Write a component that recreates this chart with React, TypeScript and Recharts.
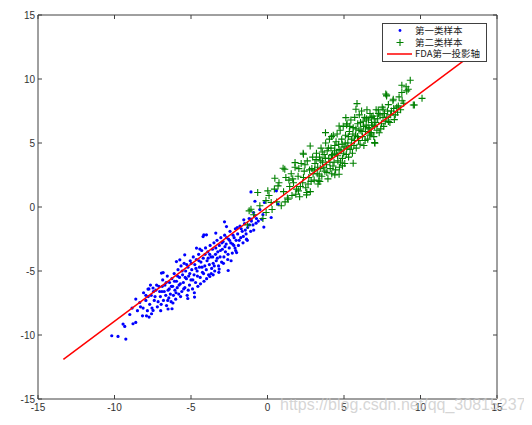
import {
  ScatterChart,
  Scatter,
  XAxis,
  YAxis,
  Legend,
} from 'recharts';

// class 1 samples (blue dots)
const class1: [number, number][] = [
  [-10.18, -10.06], [-9.77, -10.11], [-9.26, -10.32], [-9.44, -9.15], [-9.33, -9.33],
  [-8.79, -9.12], [-8.61, -9.02], [-8.61, -7.19], [-8.35, -7.46], [-8.13, -7.9],
  [-8.17, -8.5], [-7.91, -8.5], [-7.74, -8.6], [-7.58, -8.34], [-7.48, -8.08],
  [-6.5, -7.97], [-6.24, -7.95], [-5.21, -7.15], [-4.77, -7.04], [-3.77, -5.43],
  [-3.55, -5.3], [-3.16, -4.85], [-2.57, -4.96], [-2.02, -3.56], [-2.12, -3.21],
  [-1.37, -2.51], [-0.24, -1.57], [-2.81, -1.16], [-2.68, -1.53], [-4.21, -2.31],
  [-4.16, -2.17], [-6.93, -5.16], [-6.82, -5.12], [-7.81, -6.41], [-7.48, -6.33],
  [-5.95, -4.26], [-5.73, -4.13], [-5.41, -3.74], [-4.64, -3.21], [-4.42, -3.29],
  [-3.99, -2.17], [-3.38, -2.04],
  [-1.08, 1.18], [-0.82, 0.45], [-0.2, 0.35], [0.58, 1.26], [0.69, 0.22],
  [0.24, -0.82], [-0.38, -0.95], [-0.75, -1.26], [-1.08, -0.95], [-0.91, -0.43],
  [-9.0, -8.4], [-8.85, -7.9], [-8.5, -8.1],
  [-8.3, -7.8], [-8.1, -6.7], [-7.95, -7.3], [-7.85, -8.1], [-7.75, -6.4], [-7.7, -7.6], [-7.65, -6.1],
  [-7.6, -6.9], [-7.4, -7.3], [-7.3, -6.5], [-7.2, -7.8], [-7.1, -6.2], [-7.0, -7.0],
  [-6.95, -7.6], [-6.9, -6.6], [-6.85, -5.7], [-6.8, -7.3], [-6.7, -6.1], [-6.65, -6.9],
  [-6.6, -7.7], [-6.55, -5.4], [-6.5, -6.5], [-6.45, -7.1], [-6.4, -5.9], [-6.35, -6.8],
  [-6.3, -7.4], [-6.25, -5.6],
  [-6.2, -6.2], [-6.15, -6.9], [-6.1, -5.2], [-6.05, -6.5], [-6.0, -7.2], [-5.95, -5.8],
  [-5.9, -6.3], [-5.85, -4.9], [-5.8, -6.8], [-5.75, -5.5], [-5.7, -6.0], [-5.65, -4.6],
  [-5.6, -6.6], [-5.55, -5.3], [-5.5, -5.9], [-5.45, -4.4], [-5.4, -6.3], [-5.35, -5.0],
  [-5.3, -5.6], [-5.25, -6.9], [-5.2, -4.7], [-5.15, -5.4], [-5.1, -6.1], [-5.05, -4.2],
  [-5.0, -5.7],
  [-4.95, -4.9], [-4.9, -6.4], [-4.85, -3.9], [-4.8, -5.3], [-4.75, -4.5], [-4.7, -5.9],
  [-4.65, -4.1], [-4.6, -5.0], [-4.55, -6.2], [-4.5, -3.7], [-4.45, -4.7], [-4.4, -5.5],
  [-4.35, -4.3], [-4.3, -3.4], [-4.25, -5.1], [-4.2, -4.0], [-4.15, -5.8], [-4.1, -4.6],
  [-4.05, -3.2], [-4.0, -4.9],
  [-3.95, -4.2], [-3.9, -3.5], [-3.85, -5.3], [-3.8, -4.5], [-3.75, -3.0], [-3.7, -3.9],
  [-3.65, -4.8], [-3.6, -3.3], [-3.55, -4.4], [-3.5, -2.8], [-3.45, -5.0], [-3.4, -3.7],
  [-3.35, -4.2], [-3.3, -2.6], [-3.25, -3.5], [-3.2, -4.6], [-3.15, -3.0], [-3.1, -3.9],
  [-3.05, -2.4], [-3.0, -4.3],
  [-2.95, -3.3], [-2.9, -2.7], [-2.85, -3.9], [-2.8, -2.2], [-2.75, -3.5], [-2.7, -2.9],
  [-2.6, -4.1], [-2.55, -2.5], [-2.5, -3.2], [-2.45, -1.9], [-2.4, -2.8], [-2.3, -3.6],
  [-2.25, -2.2], [-2.2, -3.0], [-2.1, -1.7], [-2.05, -2.6],
  [-1.95, -2.1], [-1.9, -3.0], [-1.8, -1.5], [-1.75, -2.4], [-1.65, -1.9], [-1.6, -2.8],
  [-1.5, -1.3], [-1.4, -2.1], [-1.3, -1.6], [-1.2, -0.9], [-1.1, -1.9], [-0.95, -1.4],
  [-0.85, -0.7], [-0.6, -1.1], [-0.5, -0.2],
  [-7.95, -6.9], [-7.8, -7.0], [-7.55, -7.9], [-7.45, -6.6], [-7.35, -7.0], [-7.25, -6.1],
  [-7.15, -7.4], [-7.05, -6.6], [-6.98, -8.1], [-6.88, -6.2], [-6.75, -6.6], [-6.62, -5.9],
  [-6.52, -7.3], [-6.42, -6.4], [-6.28, -6.2], [-6.18, -7.5], [-6.08, -5.8],
  [-5.98, -6.7], [-5.88, -5.4], [-5.78, -6.1], [-5.68, -7.0], [-5.58, -5.0], [-5.48, -6.4],
  [-5.38, -5.5], [-5.28, -4.5], [-5.18, -6.5], [-5.08, -5.2], [-4.98, -4.4], [-4.88, -5.7],
  [-4.78, -6.7], [-4.68, -4.8], [-4.58, -5.4], [-4.48, -4.2], [-4.38, -6.0], [-4.28, -4.7],
  [-4.18, -5.2], [-4.08, -3.7],
  [-3.98, -5.6], [-3.88, -4.0], [-3.78, -3.7], [-3.68, -5.2], [-3.58, -3.9], [-3.48, -4.6],
  [-3.38, -3.2], [-3.28, -4.0], [-3.18, -5.1], [-3.08, -3.4], [-2.98, -2.8], [-2.88, -4.4],
  [-2.78, -3.1], [-2.68, -2.4], [-2.58, -3.7], [-2.48, -2.6], [-2.38, -4.2], [-2.28, -2.9],
  [-2.18, -2.4], [-2.08, -3.4],
  [-1.98, -1.6], [-1.85, -2.6], [-1.72, -1.7], [-1.58, -2.3], [-1.45, -1.8], [-1.32, -2.6],
  [-1.18, -1.4], [-1.05, -1.1], [-0.9, -1.8], [-0.72, -0.9], [-0.3, -0.6], [-1.55, -1.0],
];

// class 2 samples (green plus signs)
const class2: [number, number][] = [
  [10.1, 8.49], [9.6, 7.97], [9.33, 9.9], [8.78, 9.51], [7.73, 8.83], [8.29, 6.83],
  [7.0, 5.03], [5.85, 8.08], [9.06, 9.4], [9.1, 9.07], [7.78, 8.68], [8.22, 8.42],
  [8.55, 7.9], [8.78, 8.94], [7.56, 7.64], [6.78, 5.81], [4.9, 3.21], [4.68, 2.56],
  [3.35, 2.04], [2.57, 1.13], [2.02, 1.26], [1.35, 0.61], [0.24, 0.35], [-0.09, -0.43],
  [-0.64, 1.13], [-1.08, -0.17], [0.02, 1.26], [0.69, 1.65], [1.13, 2.95], [1.8, 3.47],
  [2.35, 4.12], [2.79, 4.77], [3.79, 5.81], [4.68, 6.33], [5.12, 6.98], [5.78, 7.64],
  [0.48, 2.25], [1.02, 3.03], [2.33, 4.2], [4.19, 5.5], [5.17, 6.41], [7.24, 7.58],
  [7.79, 8.75], [2.55, 0.95], [3.42, 1.99], [4.4, 2.51], [5.6, 3.42], [7.02, 4.98],
  [7.9, 6.67], [9.53, 7.97],
  [-1.3, -1.4], [-0.9, -0.6], [-0.5, 0.1], [-0.3, -0.9], [-0.1, 0.5], [-1.2, -0.3],
  [0.1, 0.9], [0.3, -0.2], [0.45, 1.4], [0.6, 0.4], [0.75, 1.9], [0.9, 0.1],
  [1.05, 1.2], [1.2, 2.3], [1.3, 0.7], [1.45, 1.6],
  [1.55, 2.6], [1.6, 0.9], [1.7, 1.9], [1.8, 3.1], [1.9, 1.4], [2.0, 2.4], [2.1, 0.8],
  [2.2, 3.4], [2.3, 1.9], [2.4, 2.8], [2.5, 1.5], [2.6, 3.6], [2.7, 2.3], [2.8, 1.2],
  [2.9, 3.0], [2.95, 3.9],
  [3.05, 2.1], [3.1, 3.4], [3.2, 4.2], [3.25, 2.6], [3.3, 1.8], [3.4, 3.9], [3.45, 3.0],
  [3.5, 4.6], [3.55, 2.4], [3.6, 3.5], [3.7, 4.1], [3.75, 2.8], [3.8, 5.0], [3.85, 3.3],
  [3.9, 4.4], [3.95, 2.2], [4.0, 3.8], [4.05, 5.3], [4.1, 3.0], [4.15, 4.6], [4.2, 2.6],
  [4.25, 4.1], [4.3, 5.6], [4.35, 3.5], [4.4, 4.8], [4.45, 2.9],
  [4.5, 4.2], [4.55, 5.7], [4.6, 3.6], [4.65, 4.9], [4.7, 3.1], [4.75, 6.0], [4.8, 4.4],
  [4.85, 5.3], [4.9, 3.8], [4.95, 6.3], [5.0, 4.7], [5.05, 3.4], [5.1, 5.6], [5.15, 4.1],
  [5.2, 6.5], [5.25, 5.0], [5.3, 3.9], [5.35, 5.9], [5.4, 4.5], [5.45, 6.8], [5.5, 5.3],
  [5.55, 4.2], [5.6, 6.2], [5.65, 4.8], [5.7, 7.0], [5.75, 5.6], [5.8, 4.6], [5.9, 6.5],
  [5.95, 5.2],
  [6.0, 7.2], [6.05, 4.9], [6.1, 6.0], [6.15, 7.5], [6.2, 5.5], [6.25, 6.7], [6.3, 4.8],
  [6.35, 7.0], [6.4, 5.9], [6.45, 6.4], [6.5, 7.6], [6.55, 5.3], [6.6, 6.8], [6.65, 6.1],
  [6.7, 7.3], [6.75, 5.7], [6.8, 6.6], [6.9, 7.1], [6.95, 5.5], [7.0, 6.3], [7.1, 7.6],
  [7.15, 6.0], [7.2, 6.9], [7.3, 5.8], [7.35, 7.2], [7.45, 6.5],
  [7.5, 7.8], [7.6, 6.3], [7.65, 7.3], [7.8, 7.0], [7.9, 8.0], [8.0, 6.6], [8.1, 7.5],
  [8.2, 8.3], [8.35, 7.2], [8.45, 7.8], [8.6, 8.6], [8.7, 7.6], [8.9, 8.1], [9.2, 9.2],
  [1.15, 0.4], [1.4, 2.1], [1.65, 2.2], [1.85, 1.0], [2.05, 3.0], [2.15, 1.6], [2.35, 2.3],
  [2.45, 3.3], [2.65, 1.8], [2.75, 2.9], [2.85, 2.0], [2.98, 2.6],
  [3.08, 2.9], [3.18, 3.7], [3.28, 3.1], [3.38, 2.5], [3.48, 3.6], [3.58, 4.3], [3.68, 3.1],
  [3.78, 3.8], [3.88, 2.7], [3.98, 4.6], [4.08, 3.5], [4.18, 4.0], [4.28, 3.2], [4.38, 4.4],
  [4.48, 5.1], [4.58, 4.0], [4.68, 4.5], [4.78, 3.5], [4.88, 4.9], [4.98, 4.2],
  [5.08, 5.0], [5.18, 4.6], [5.28, 5.5], [5.38, 6.3], [5.48, 4.8], [5.58, 5.7], [5.68, 5.2],
  [5.78, 6.1], [5.88, 5.5], [5.98, 6.0], [6.08, 6.6], [6.18, 5.9], [6.28, 6.3], [6.38, 5.2],
  [6.48, 6.9], [6.58, 6.2], [6.68, 5.6], [6.78, 7.0], [6.88, 6.4], [6.98, 6.9],
  [7.08, 6.6], [7.25, 7.3], [7.4, 6.1], [7.55, 7.0], [7.7, 6.7], [7.85, 7.5], [8.05, 7.2],
  [8.25, 7.7], [8.5, 7.4], [8.8, 8.3],
];

// FDA first projection axis
const fdaAxis: [number, number][] = [
  [-13.34, -11.9],
  [13.6, 12.12],
];

const ticks = [-15, -10, -5, 0, 5, 10, 15];
const legendLabels = ['第一类样本', '第二类样本', 'FDA第一投影轴'];

const toPoints = (arr: [number, number][]) => arr.map(([x, y]) => ({ x, y }));

const AXIS_COLOR = '#404040';
const tickFont = { fontSize: 10, fill: '#333', fontFamily: 'Liberation Sans, Arial, sans-serif' };

function BlueDot(props: any) {
  const { cx, cy } = props;
  return <circle cx={cx} cy={cy} r={1.6} fill="#0000ff" />;
}

function GreenPlus(props: any) {
  const { cx, cy } = props;
  return (
    <path
      d={`M${cx - 3.5},${cy}h7M${cx},${cy - 3.5}v7`}
      stroke="#008000"
      strokeWidth={1.1}
      fill="none"
    />
  );
}

function NoShape() {
  return <g />;
}

function LegendBox() {
  return (
    <div
      style={{
        width: 105,
        height: 39,
        background: '#fff',
        border: `1px solid ${AXIS_COLOR}`,
        boxSizing: 'border-box',
      }}
    >
      <svg width={103} height={37} style={{ display: 'block', overflow: 'visible' }}>
        <circle cx={17} cy={6.5} r={1.4} fill="#0000ff" />
        <path d="M13.5,18.5h7M17,15v7" stroke="#008000" strokeWidth={1.1} />
        <line x1={4} x2={29} y1={30} y2={30} stroke="#ff0000" strokeWidth={1.5} />
        {legendLabels.map((label, i) => (
          <text
            key={label}
            x={32}
            y={6.5 + i * 11.8}
            dy="0.35em"
            fontSize={9.5}
            fill="#222"
            fontFamily="Noto Sans CJK SC, sans-serif"
          >
            {label}
          </text>
        ))}
      </svg>
    </div>
  );
}

export default function App() {
  return (
    <div style={{ position: 'relative', width: 532, height: 425, margin: -8, background: '#fff' }}>
      <ScatterChart
        width={532}
        height={425}
        margin={{ top: 14, right: 34, left: 0, bottom: 0 }}
      >
        <XAxis
          dataKey="x"
          type="number"
          domain={[-15, 15]}
          ticks={ticks}
          interval={0}
          height={26}
          tickSize={-4}
          tickMargin={9}
          stroke={AXIS_COLOR}
          tick={tickFont}
          allowDataOverflow
        />
        <XAxis
          xAxisId="top"
          dataKey="x"
          orientation="top"
          type="number"
          domain={[-15, 15]}
          ticks={ticks}
          interval={0}
          height={1}
          tickSize={-4}
          stroke={AXIS_COLOR}
          tick={NoShape}
          allowDataOverflow
        />
        <YAxis
          dataKey="y"
          type="number"
          domain={[-15, 15]}
          ticks={ticks}
          interval={0}
          width={38}
          tickSize={-4}
          tickMargin={7}
          stroke={AXIS_COLOR}
          tick={tickFont}
          allowDataOverflow
        />
        <YAxis
          yAxisId="right"
          dataKey="y"
          orientation="right"
          type="number"
          domain={[-15, 15]}
          ticks={ticks}
          interval={0}
          width={1}
          tickSize={-4}
          stroke={AXIS_COLOR}
          tick={NoShape}
          allowDataOverflow
        />
        <Scatter
          name={legendLabels[0]}
          data={toPoints(class1)}
          shape={BlueDot}
          isAnimationActive={false}
        />
        <Scatter
          name={legendLabels[1]}
          data={toPoints(class2)}
          shape={GreenPlus}
          isAnimationActive={false}
        />
        <Scatter
          name={legendLabels[2]}
          data={toPoints(fdaAxis)}
          xAxisId="top"
          yAxisId="right"
          line={{ stroke: '#ff0000', strokeWidth: 1.5 }}
          shape={NoShape}
          isAnimationActive={false}
        />
        <Legend
          layout="vertical"
          align="center"
          verticalAlign="middle"
          content={LegendBox}
          wrapperStyle={{ left: 382, top: 23, width: 105, height: 39 }}
        />
      </ScatterChart>
      <div
        style={{
          position: 'absolute',
          left: 280,
          top: 396,
          fontSize: 16,
          fontFamily: 'Liberation Sans, Arial, sans-serif',
          color: 'rgba(200,200,200,0.75)',
          whiteSpace: 'nowrap',
          pointerEvents: 'none',
        }}
      >
        https://blog.csdn.net/qq_30815237
      </div>
    </div>
  );
}
